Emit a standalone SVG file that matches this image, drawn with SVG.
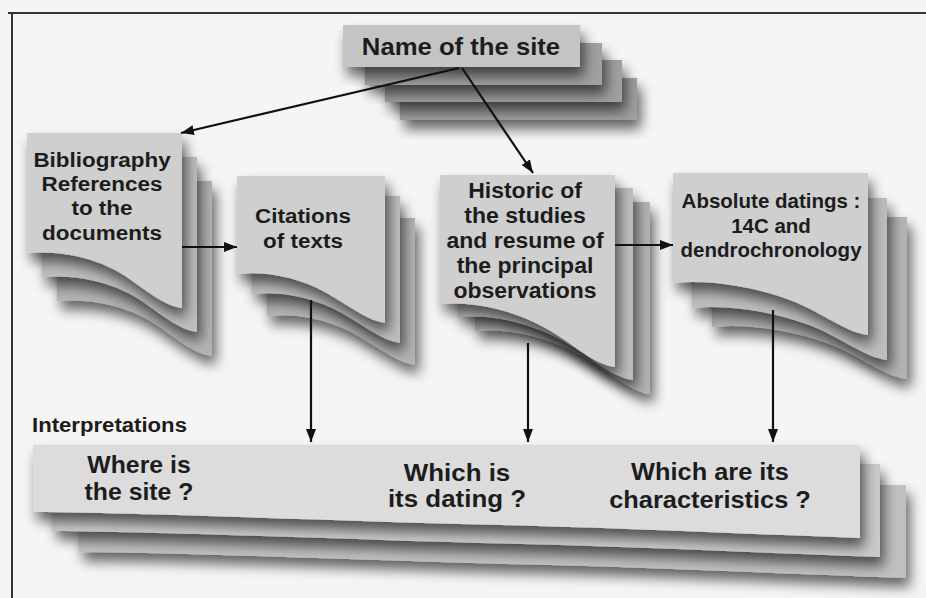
<svg xmlns="http://www.w3.org/2000/svg" xmlns:xlink="http://www.w3.org/1999/xlink" width="926" height="598" viewBox="0 0 926 598">
  <style>
    .lbl { font-family: "Liberation Sans", Arial, sans-serif; font-weight: bold; fill: #1c1c1c; text-anchor: middle; }
    .lbl-left { text-anchor: start; }
    .card { fill: #cfcfcf; }
    .l2 { fill: #bdbdbd; }
    .l3 { fill: #b3b3b3; }
    .icard { fill: #dcdcdc; }
    .il2 { fill: #c9c9c9; }
    .il3 { fill: #c0c0c0; }
    .tcard { fill: #c4c4c4; }
    .tl { fill: #a0a0a0; }
    .conn { stroke: #111; stroke-width: 2.2; fill: none; marker-end: url(#arrow); }
    .frame { stroke: #333; stroke-width: 2; fill: none; }
  </style>
  <defs>
    <!-- soft cast shadow under every sheet -->
    <filter id="drop" x="-25%" y="-25%" width="160%" height="170%">
      <feGaussianBlur in="SourceAlpha" stdDeviation="6.5"/>
      <feOffset dx="4" dy="9"/>
      <feComponentTransfer><feFuncA type="linear" slope="0.6"/></feComponentTransfer>
      <feMerge><feMergeNode/><feMergeNode in="SourceGraphic"/></feMerge>
    </filter>
    <marker id="arrow" viewBox="0 0 13 10" refX="13" refY="5" markerWidth="13" markerHeight="10" markerUnits="userSpaceOnUse" orient="auto">
      <path d="M0,0 L13,5 L0,10 Z" fill="#111"/>
    </marker>
    <!-- page outlines with curled bottoms -->
    <path id="pgBib" d="M27,133 H182 V308 C165,306 148,292 128,278 C105,262 70,250 27,253 Z"/>
    <path id="pgCit" d="M237,176 H385 V323 C370,321 355,310 335,298 C310,282 275,270 237,274 Z"/>
    <path id="pgHist" d="M440,175 H615 V367 C597,365 580,350 557,335 C530,317 485,300 440,304 Z"/>
    <path id="pgAbs" d="M673,173 H868 V335 C850,333 832,320 808,308 C780,293 720,278 673,283 Z"/>
    <path id="pgInt" d="M33,445 H860 V538 C720,533 600,527 460,524 C320,520 150,513 33,512 Z"/>
    <rect id="pgName" x="343" y="25" width="237" height="42"/>
  </defs>

  <rect width="926" height="598" fill="#f5f5f3"/>
  <path class="frame" d="M8,13 H926 M12,12 V598"/>

  <g id="name-site">
    <use xlink:href="#pgName" class="tl" transform="translate(57,53)" filter="url(#drop)"/>
    <use xlink:href="#pgName" class="tl" transform="translate(42,35)" filter="url(#drop)"/>
    <use xlink:href="#pgName" class="tl" transform="translate(22,18)" filter="url(#drop)"/>
    <use xlink:href="#pgName" class="tcard" filter="url(#drop)"/>
    <g transform="translate(461 0) scale(1.07 1)">
      <text class="lbl" x="0" y="55" font-size="24">Name of the site</text>
    </g>
  </g>

  <g id="bibliography">
    <use xlink:href="#pgBib" class="l3" transform="translate(30,48)" filter="url(#drop)"/>
    <use xlink:href="#pgBib" class="l2" transform="translate(15,24)" filter="url(#drop)"/>
    <use xlink:href="#pgBib" class="card" filter="url(#drop)"/>
    <g transform="translate(102 0) scale(1.07 1)" font-size="21">
      <text class="lbl" x="0" y="167">Bibliography</text>
      <text class="lbl" x="0" y="191">References</text>
      <text class="lbl" x="0" y="215">to the</text>
      <text class="lbl" x="0" y="240">documents</text>
    </g>
  </g>

  <g id="citations">
    <use xlink:href="#pgCit" class="l3" transform="translate(30,42)" filter="url(#drop)"/>
    <use xlink:href="#pgCit" class="l2" transform="translate(15,20)" filter="url(#drop)"/>
    <use xlink:href="#pgCit" class="card" filter="url(#drop)"/>
    <g transform="translate(303 0) scale(1.07 1)" font-size="21">
      <text class="lbl" x="0" y="223">Citations</text>
      <text class="lbl" x="0" y="248">of texts</text>
    </g>
  </g>

  <g id="historic">
    <use xlink:href="#pgHist" class="l3" transform="translate(35,27)" filter="url(#drop)"/>
    <use xlink:href="#pgHist" class="l2" transform="translate(18,13)" filter="url(#drop)"/>
    <use xlink:href="#pgHist" class="card" filter="url(#drop)"/>
    <g transform="translate(525 0) scale(1.07 1)" font-size="21.5">
      <text class="lbl" x="0" y="198">Historic of</text>
      <text class="lbl" x="0" y="223">the studies</text>
      <text class="lbl" x="0" y="248">and resume of</text>
      <text class="lbl" x="0" y="273">the principal</text>
      <text class="lbl" x="0" y="298">observations</text>
    </g>
  </g>

  <g id="absolute-datings">
    <use xlink:href="#pgAbs" class="l3" transform="translate(39,44)" filter="url(#drop)"/>
    <use xlink:href="#pgAbs" class="l2" transform="translate(19,25)" filter="url(#drop)"/>
    <use xlink:href="#pgAbs" class="card" filter="url(#drop)"/>
    <g transform="translate(771 0)" font-size="20.5">
      <text class="lbl" x="0" y="208">Absolute datings :</text>
      <text class="lbl" x="0" y="233">14C and</text>
      <text class="lbl" x="0" y="257">dendrochronology</text>
    </g>
  </g>

  <g id="interpretations">
    <g transform="translate(32 0) scale(1.08 1)">
      <text class="lbl lbl-left" x="0" y="432" font-size="20.5">Interpretations</text>
    </g>
    <use xlink:href="#pgInt" class="il3" transform="translate(46,40)" filter="url(#drop)"/>
    <use xlink:href="#pgInt" class="il2" transform="translate(20,19)" filter="url(#drop)"/>
    <use xlink:href="#pgInt" class="icard" filter="url(#drop)"/>
    <g transform="translate(139 0) scale(1.08 1)" font-size="23">
      <text class="lbl" x="0" y="473">Where is</text>
      <text class="lbl" x="0" y="500">the site ?</text>
    </g>
    <g transform="translate(457 0) scale(1.08 1)" font-size="24">
      <text class="lbl" x="0" y="481">Which is</text>
      <text class="lbl" x="0" y="507">its dating ?</text>
    </g>
    <g transform="translate(710 0) scale(1.08 1)" font-size="23.5">
      <text class="lbl" x="0" y="480">Which are its</text>
      <text class="lbl" x="0" y="508">characteristics ?</text>
    </g>
  </g>

  <g id="connectors">
    <line class="conn" x1="459" y1="68" x2="181" y2="133"/>
    <line class="conn" x1="462" y1="68" x2="533" y2="173"/>
    <line class="conn" x1="182" y1="247" x2="237" y2="247"/>
    <line class="conn" x1="615" y1="245" x2="673" y2="245"/>
    <line class="conn" x1="311" y1="300" x2="311" y2="442"/>
    <line class="conn" x1="528" y1="343" x2="528" y2="442"/>
    <line class="conn" x1="773" y1="310" x2="773" y2="442"/>
  </g>
</svg>
